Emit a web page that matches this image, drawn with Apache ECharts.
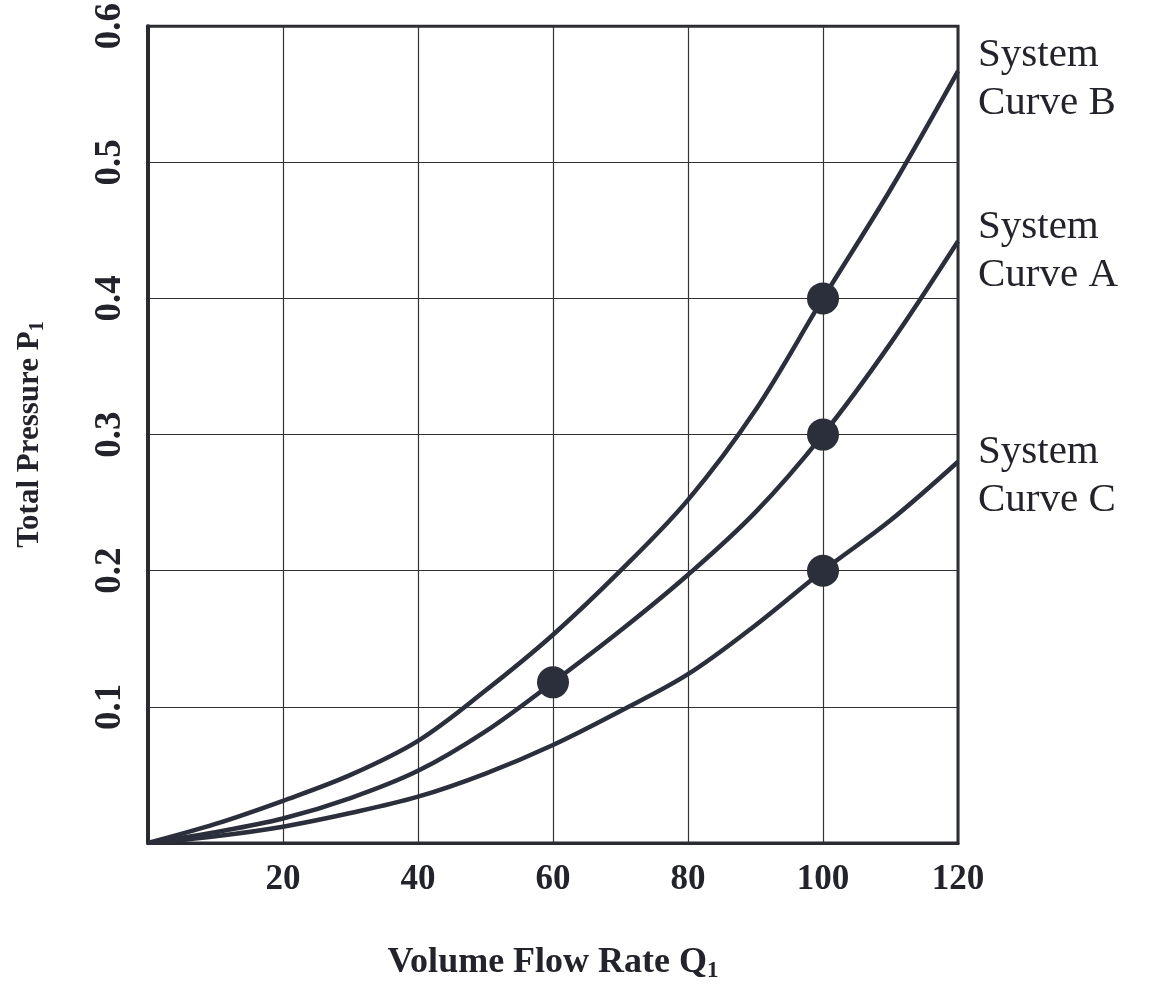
<!DOCTYPE html>
<html style="height: 100%; width: 100%;">
<head>
    <meta charset="utf-8">
    <title>System Curves</title>
</head>
<body style="height: 100%; margin: 0; width: 100%; background: #fff;">
    <div id="chartContainer" style="width: 1149px; height: 988px;"></div>

    <script type="text/javascript" src="https://cdn.jsdelivr.net/npm/echarts@6/dist/echarts.min.js"></script>
    <script type="text/javascript">
        // values
        var flowRate = [0, 10, 20, 30, 40, 50, 60, 70, 80, 90, 100, 110, 120];
        var curveB = [0, 0.014, 0.031, 0.05, 0.075, 0.112, 0.153, 0.2, 0.252, 0.318, 0.4, 0.48, 0.567];
        var curveA = [0, 0.008, 0.018, 0.033, 0.053, 0.082, 0.118, 0.156, 0.197, 0.243, 0.3, 0.367, 0.442];
        var curveC = [0, 0.005, 0.012, 0.022, 0.034, 0.051, 0.072, 0.097, 0.124, 0.16, 0.2, 0.237, 0.28];
        var curveNames = ['System\nCurve B', 'System\nCurve A', 'System\nCurve C'];
        var pointQ = [60, 100, 100, 100];
        var pointP = [0.118, 0.4, 0.3, 0.2];

        var ink = '#2b2e3b';
        var textInk = '#23232b';
        var serif = '"Liberation Serif", "DejaVu Serif", serif';

        function pairs(xs, ys) {
            return xs.map(function (x, i) { return [x, ys[i]]; });
        }

        function curve(name, values, dy) {
            return {
                type: 'line',
                name: name,
                data: pairs(flowRate, values),
                smooth: 0.35,
                showSymbol: false,
                lineStyle: { color: ink, width: 4.5 },
                endLabel: {
                    show: true,
                    formatter: name,
                    distance: 20,
                    offset: [0, dy],
                    color: textInk,
                    fontFamily: serif,
                    fontSize: 41,
                    lineHeight: 48,
                    align: 'left'
                },
                z: 3
            };
        }

        var dom = document.getElementById('chartContainer');
        var myChart = echarts.init(dom);

        var option = {
            animation: false,
            backgroundColor: '#fff',
            grid: {
                left: 148,
                right: 191,
                top: 22,
                bottom: 143,
                show: true,
                borderWidth: 3,
                borderColor: '#2a2a33'
            },
            xAxis: {
                type: 'value',
                min: 0,
                max: 120,
                interval: 20,
                name: '{m|Volume Flow Rate Q}{s|1}',
                nameLocation: 'middle',
                nameGap: 100,
                nameTextStyle: {
                    rich: {
                        m: { fontFamily: serif, fontWeight: 'bold', fontSize: 36, color: textInk, lineHeight: 40 },
                        s: { fontFamily: serif, fontWeight: 'bold', fontSize: 23, color: textInk, lineHeight: 22, verticalAlign: 'bottom' }
                    }
                },
                axisLine: { show: true, lineStyle: { color: '#2a2a33', width: 3 } },
                axisTick: { show: false },
                axisLabel: {
                    margin: 19,
                    color: textInk,
                    fontFamily: serif,
                    fontWeight: 'bold',
                    fontSize: 35,
                    formatter: function (v) { return v === 0 ? '' : String(v); }
                },
                splitLine: { show: true, lineStyle: { color: '#333', width: 1.2 } }
            },
            yAxis: {
                type: 'value',
                min: 0,
                max: 0.6,
                interval: 0.1,
                name: '{m|Total Pressure P}{s|1}',
                nameLocation: 'middle',
                nameRotate: 90,
                nameGap: 100,
                nameTextStyle: {
                    rich: {
                        m: { fontFamily: serif, fontWeight: 'bold', fontSize: 31, color: textInk, lineHeight: 36 },
                        s: { fontFamily: serif, fontWeight: 'bold', fontSize: 20, color: textInk, lineHeight: 20, verticalAlign: 'bottom' }
                    }
                },
                axisLine: { show: true, lineStyle: { color: '#2a2a33', width: 4 } },
                axisTick: { show: false },
                axisLabel: {
                    rotate: 90,
                    margin: 19,
                    color: textInk,
                    fontFamily: serif,
                    fontWeight: 'bold',
                    fontSize: 37,
                    formatter: function (v) { return v === 0 ? '' : v.toFixed(1); }
                },
                splitLine: { show: true, lineStyle: { color: '#333', width: 1.2 } }
            },
            series: [
                curve(curveNames[0], curveB, 8),
                curve(curveNames[1], curveA, 10),
                curve(curveNames[2], curveC, 14),
                {
                    type: 'scatter',
                    data: pairs(pointQ, pointP),
                    symbol: 'circle',
                    symbolSize: 32,
                    itemStyle: { color: ink, opacity: 1 },
                    z: 4
                }
            ]
        };

        myChart.setOption(option);
    </script>
</body>
</html>
